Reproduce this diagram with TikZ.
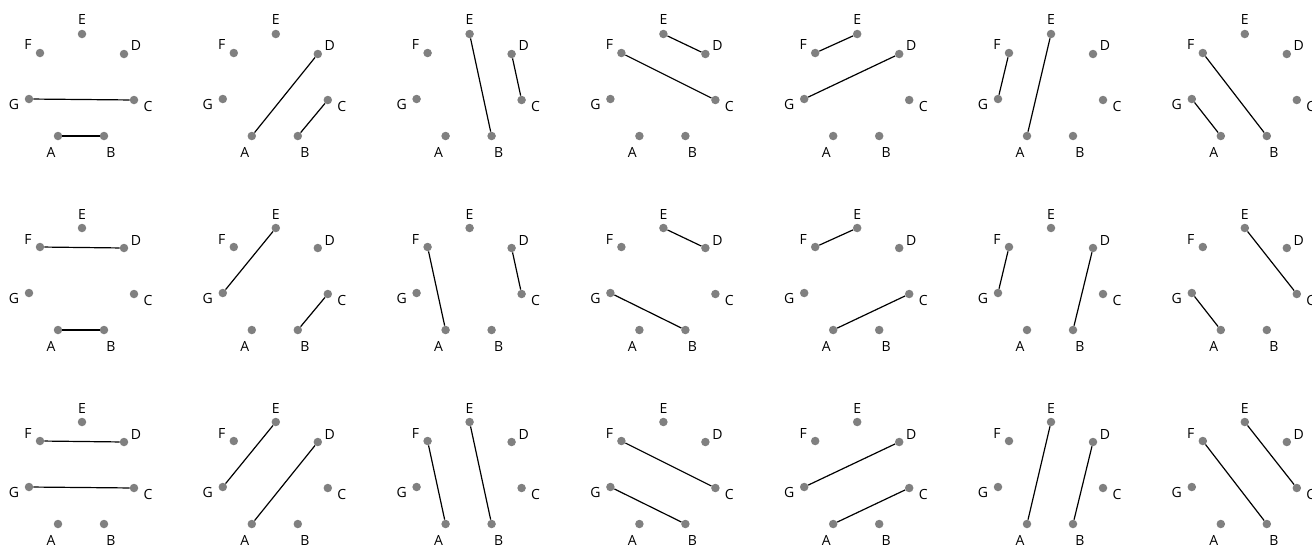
\documentclass[tikz,border=0pt]{standalone}
\usepackage{fontspec}
\setmainfont{Open Sans}
\begin{document}
\begin{tikzpicture}[x=1pt,y=-1pt,
  dot/.style={circle,fill=gray,inner sep=0pt,minimum size=8.5pt},
  lbl/.style={inner sep=0pt,font=\fontsize{14}{16}\selectfont},
  link/.style={line width=1.2pt,black}]
\useasboundingbox (0,0) rectangle (1312,544);
\foreach \r/\c/\p/\q/\s/\t in {
  0/0/G/C/A/B, 0/1/A/D/B/C, 0/2/E/B/D/C, 0/3/E/D/F/C, 0/4/F/E/G/D, 0/5/G/F/A/E, 0/6/G/A/F/B,
  1/0/F/D/A/B, 1/1/G/E/B/C, 1/2/F/A/D/C, 1/3/E/D/G/B, 1/4/F/E/A/C, 1/5/G/F/B/D, 1/6/G/A/E/C,
  2/0/F/D/G/C, 2/1/G/E/A/D, 2/2/F/A/E/B, 2/3/F/C/G/B, 2/4/G/D/A/C, 2/5/A/E/B/D, 2/6/F/B/E/C}{
  \begin{scope}[shift={(\c*193.8,\r*194)}]
    \foreach \n/\x/\y/\lx/\ly in {A/58/136/-7/16, B/104/136/7/16, C/134/100/14/6,
        D/124/54/12/-8, E/82/34/0/-14, F/40/53/-12/-8, G/29/99/-15/5}{
      \node[dot] (P\r\c\n) at (\x,\y) {};
      \node[lbl] (L\r\c\n) at (\x+\lx,\y+\ly) {\n};
    }
    \draw[link] (P\r\c\p) -- (P\r\c\q);
    \draw[link] (P\r\c\s) -- (P\r\c\t);
  \end{scope}
}
\end{tikzpicture}
\end{document}
